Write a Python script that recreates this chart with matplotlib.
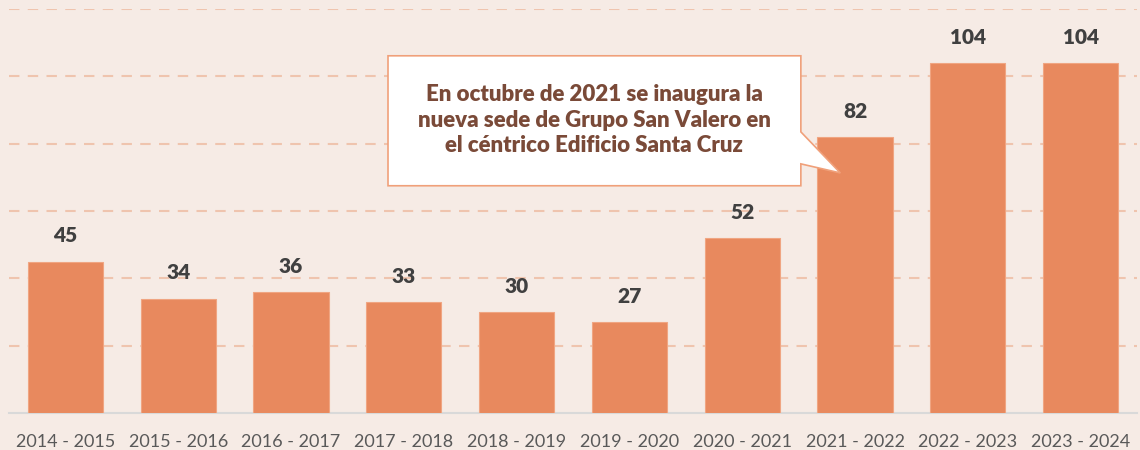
import matplotlib.pyplot as plt
from matplotlib.patches import Polygon

# alumnos por curso
cursos = ['2014 - 2015', '2015 - 2016', '2016 - 2017', '2017 - 2018', '2018 - 2019',
          '2019 - 2020', '2020 - 2021', '2021 - 2022', '2022 - 2023', '2023 - 2024']
alumnos = [45, 34, 36, 33, 30, 27, 52, 82, 104, 104]

nota = 'En octubre de 2021 se inaugura la\nnueva sede de Grupo San Valero en\nel céntrico Edificio Santa Cruz'

fondo = '#F6EBE5'
naranja = '#E8895E'

plt.rcParams['font.family'] = ['Lato', 'DejaVu Sans']

fig = plt.figure(figsize=(11.4, 4.5), dpi=100, facecolor=fondo)
ax = fig.add_axes([9 / 1140, 37 / 450, 1128 / 1140, 404 / 450])
ax.set_facecolor(fondo)

x = range(len(cursos))
ax.bar(x, alumnos, width=0.665, color=naranja, edgecolor='#F0A582', linewidth=0.8, zorder=3)

for i, v in zip(x, alumnos):
    ax.text(i, v + 4.8, str(v), ha='center', va='bottom', fontsize=15, fontweight='heavy',
            color='#404040', zorder=5)

ax.set_xlim(-0.5, len(cursos) - 0.5)
ax.set_ylim(0, 120)
ax.set_yticks(range(20, 121, 20))
ax.yaxis.grid(True, color='#EFC4AE', linestyle=(0, (5, 4)), linewidth=1.5, zorder=0)
ax.tick_params(axis='y', left=False, labelleft=False)
ax.tick_params(axis='x', length=0, pad=15, labelsize=13, labelcolor='#595959')
ax.set_xticks(list(x))
ax.set_xticklabels(cursos)
for s in ['top', 'right', 'left']:
    ax.spines[s].set_visible(False)
ax.spines['bottom'].set_color('#D9D9D9')
ax.spines['bottom'].set_linewidth(1.5)

# bocadillo con la nota
globo = Polygon([(2.86, 106.1), (6.52, 106.1), (6.52, 83.5), (6.87, 71.3), (6.52, 74.0),
                 (6.52, 67.5), (2.86, 67.5)], closed=True, facecolor='white',
                edgecolor='#F0A07A', linewidth=1.2, zorder=6, clip_on=False)
ax.add_patch(globo)
ax.text(4.69, 87.0, nota, ha='center', va='center', fontsize=16, fontweight='heavy',
        color='#7A4A38', linespacing=1.25, zorder=7)

fig.savefig('out.png', dpi=100, facecolor=fondo)
